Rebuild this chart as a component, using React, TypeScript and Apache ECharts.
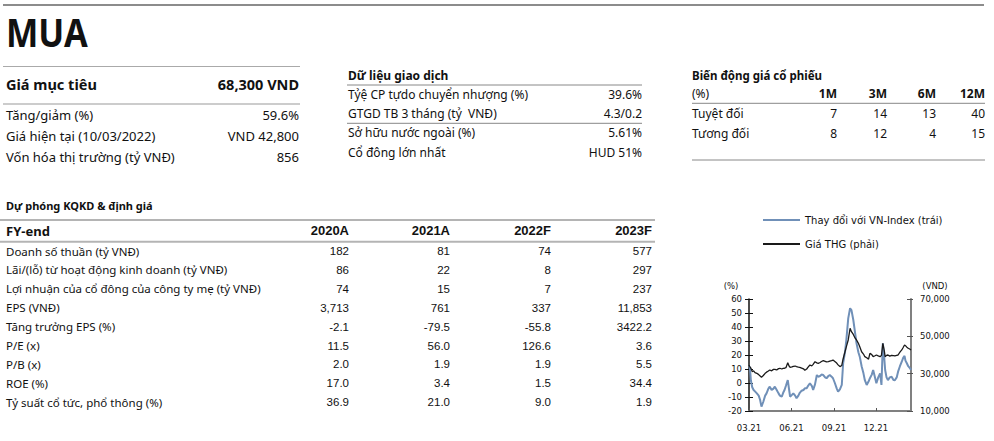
import React, { useEffect, useRef } from 'react';
import * as echarts from 'echarts';

// ---------- data ----------
const ticker = 'MUA';
const targetLabel = 'Giá mục tiêu';
const targetValue = '68,300 VND';
const summaryLabels = ['Tăng/giảm (%)', 'Giá hiện tại (10/03/2022)', 'Vốn hóa thị trường (tỷ VNĐ)'];
const summaryValues = ['59.6%', 'VND 42,800', '856'];

const tradingTitle = 'Dữ liệu giao dịch';
const tradingLabels = ['Tỷệ CP tựdo chuyển nhượng (%)', 'GTGD TB 3 tháng (tỷ  VNĐ)', 'Sở hữu nước ngoài (%)', 'Cổ đông lớn nhất'];
const tradingValues = ['39.6%', '4.3/0.2', '5.61%', 'HUD 51%'];

const perfTitle = 'Biến động giá cổ phiếu';
const perfUnit = '(%)';
const perfCols = ['1M', '3M', '6M', '12M'];
const perfRows = ['Tuyệt đối', 'Tương đối'];
const perfAbsolute = [7, 14, 13, 40];
const perfRelative = [8, 12, 4, 15];

const fyTitle = 'Dự phóng KQKD & định giá';
const fyHeader = 'FY-end';
const fyYears = ['2020A', '2021A', '2022F', '2023F'];
const fyLabels = [
  'Doanh số thuần (tỷ VNĐ)',
  'Lãi/(lỗ) từ hoạt động kinh doanh (tỷ VNĐ)',
  'Lợi nhuận của cổ đông của công ty mẹ (tỷ VNĐ)',
  'EPS (VNĐ)',
  'Tăng trưởng EPS (%)',
  'P/E (x)',
  'P/B (x)',
  'ROE (%)',
  'Tỷ suất cổ tức, phổ thông (%)',
];
const fy2020 = ['182', '86', '74', '3,713', '-2.1', '11.5', '2.0', '17.0', '36.9'];
const fy2021 = ['81', '22', '15', '761', '-79.5', '56.0', '1.9', '3.4', '21.0'];
const fy2022 = ['74', '8', '7', '337', '-55.8', '126.6', '1.9', '1.5', '9.0'];
const fy2023 = ['577', '297', '237', '11,853', '3422.2', '3.6', '5.5', '34.4', '1.9'];

const seriesNames = ['Thay đổi với VN-Index (trái)', 'Giá THG (phải)'];
const leftUnit = '(%)';
const rightUnit = '(VND)';
const xTickDates = ['2021-03-01', '2021-06-01', '2021-09-01', '2021-12-01'];
const xRange = ['2021-03-01', '2022-02-15'];

const dates = [
  '2021-03-01', '2021-03-03', '2021-03-05', '2021-03-08', '2021-03-11', '2021-03-14', '2021-03-18', '2021-03-22', '2021-03-25', '2021-03-28',
  '2021-04-01', '2021-04-05', '2021-04-08', '2021-04-12', '2021-04-15', '2021-04-19', '2021-04-23', '2021-04-26', '2021-04-30', '2021-05-04',
  '2021-05-07', '2021-05-11', '2021-05-14', '2021-05-17', '2021-05-20', '2021-05-24', '2021-05-27', '2021-05-29', '2021-06-02', '2021-06-05',
  '2021-06-09', '2021-06-12', '2021-06-16', '2021-06-19', '2021-06-23', '2021-06-27', '2021-06-30', '2021-07-04', '2021-07-07', '2021-07-11',
  '2021-07-15', '2021-07-18', '2021-07-22', '2021-07-26', '2021-07-29', '2021-08-02', '2021-08-05', '2021-08-09', '2021-08-13', '2021-08-16',
  '2021-08-20', '2021-08-23', '2021-08-27', '2021-08-30', '2021-09-03', '2021-09-07', '2021-09-10', '2021-09-14', '2021-09-18', '2021-09-21',
  '2021-09-25', '2021-09-28', '2021-10-02', '2021-10-06', '2021-10-09', '2021-10-13', '2021-10-17', '2021-10-20', '2021-10-24', '2021-10-27',
  '2021-10-31', '2021-11-04', '2021-11-07', '2021-11-11', '2021-11-15', '2021-11-18', '2021-11-22', '2021-11-25', '2021-11-29', '2021-12-02',
  '2021-12-06', '2021-12-10', '2021-12-13', '2021-12-16', '2021-12-19', '2021-12-21', '2021-12-24', '2021-12-27', '2021-12-31', '2022-01-04',
  '2022-01-08', '2022-01-11', '2022-01-15', '2022-01-18', '2022-01-22', '2022-01-26', '2022-01-29', '2022-02-01', '2022-02-03', '2022-02-06',
  '2022-02-09', '2022-02-13', '2022-02-15',
];
const relVnIndex = [
  12, 11, 2, -3, -5, -6, -7.4, -9, -12, -16.9,
  -13.4, -9, -7.4, -4, -2.6, -5, -4, -2.6, -5, -7.4,
  -9, -9.8, -7, -5, -2, 2.1, -5, -9.8, -8.5, -7.4,
  -9, -10.9, -9, -7, -5.5, -5, -3.8, -3.8, -2, -0.2,
  -2, -5, -1, 5.7, 4.5, 5, 6, 5.7, 4, 3.4,
  5, 5.7, 4.5, 3.4, 0, -3.8, -6.2, -4.5, -1.4, 14.1,
  22, 31, 46.2, 53.4, 52.1, 45, 35.5, 28.4, 22, 18.8,
  12, 6.9, 2, -1.4, 1, 3.4, 6, 9.3, 4, -0.2,
  4, 6.9, -1.4, 28.4, 18, 9.3, 4, 2.1, 4, 4.5,
  2.1, 2, 4, 8.1, 12, 15.2, 18, 19.3, 16, 14.1,
  12, 10.5, 9.3,
];
const priceTHG = [
  34500, 33700, 33000, 31100, 31500, 30600, 30200, 29500, 28800, 28050,
  29000, 30200, 30800, 31400, 31950, 31500, 32300, 32350, 32000, 32700,
  32900, 32500, 32800, 32900, 33200, 35900, 34000, 33400, 33600, 33900,
  34100, 33800, 33500, 33400, 33000, 32600, 31800, 32500, 33500, 34650,
  34200, 35000, 36400, 35800, 35550, 36000, 36500, 36950, 36600, 36300,
  36400, 36700, 37000, 37300, 36500, 35700, 34700, 33800, 34400, 38000,
  41750, 44500, 48050, 54300, 52500, 51000, 49000, 48050, 46250, 44450,
  41750, 40500, 39100, 38500, 37800, 40900, 40200, 39100, 39600, 40000,
  39500, 39100, 39800, 46250, 42500, 39100, 39800, 40000, 39400, 39800,
  39700, 39500, 39800, 40000, 41500, 42700, 44000, 45350, 45000, 44200,
  43600, 43100, 42700,
];

// ---------- styling ----------
const HUM = '"Noto Sans", "Open Sans", sans-serif';
const TAH = '"Liberation Sans", Arial, sans-serif';
const VER = '"DejaVu Sans", Verdana, sans-serif';
const INK = '#111';

function txt(text: string, x: number, y: number, size: number, opts: any = {}) {
  return {
    type: 'text',
    x,
    y,
    scaleX: opts.scaleX || 1,
    silent: true,
    style: {
      text,
      fill: opts.fill || INK,
      fontSize: size,
      fontFamily: opts.family || HUM,
      fontWeight: opts.bold ? 'bold' : 'normal',
      align: opts.align || 'left',
      verticalAlign: 'middle',
    },
  };
}
function hline(x1: number, x2: number, y: number, color = '#999', w = 1) {
  return { type: 'line', silent: true, shape: { x1, y1: y, x2, y2: y }, style: { stroke: color, lineWidth: w } };
}

function buildGraphics() {
  const g: any[] = [];
  g.push(hline(3, 984, 5, '#8c8c8c', 2));
  g.push(txt(ticker, 6, 32.5, 39, { bold: true, scaleX: 0.88 }));
  g.push(hline(3, 300, 66.5, '#aaa', 1));
  g.push(txt(targetLabel, 6, 83.5, 14.5, { bold: true }));
  g.push(txt(targetValue, 299, 83.5, 14.5, { bold: true, align: 'right' }));
  g.push(hline(3, 300, 104, '#999', 1));
  const sy = [114.5, 136, 157];
  summaryLabels.forEach((l, i) => {
    g.push(txt(l, 6, sy[i], 13));
    g.push(txt(summaryValues[i], 299, sy[i], 13, { align: 'right' }));
  });
  g.push(txt(tradingTitle, 348, 75, 12, { bold: true }));
  g.push(hline(347, 642, 85, '#888', 1));
  g.push(hline(347, 642, 123.3, '#888', 1));
  const ty = [94, 113.3, 132.5, 152];
  tradingLabels.forEach((l, i) => {
    g.push(txt(l, 348, ty[i], 12));
    g.push(txt(tradingValues[i], 642, ty[i], 12, { align: 'right' }));
  });
  const colX = [837, 887, 936, 985];
  g.push(txt(perfTitle, 692, 75, 11.5, { bold: true }));
  g.push(txt(perfUnit, 692, 93.5, 12));
  perfCols.forEach((c, i) => g.push(txt(c, colX[i], 93.5, 12, { bold: true, align: 'right' })));
  g.push(hline(692, 985, 103.3, '#888', 1));
  const pRows = [perfAbsolute, perfRelative];
  const py = [113.3, 133];
  perfRows.forEach((r, ri) => {
    g.push(txt(r, 692, py[ri], 12));
    pRows[ri].forEach((v, ci) => g.push(txt(String(v), colX[ci], py[ri], 12, { align: 'right' })));
  });
  g.push(hline(692, 985, 160, '#888', 1));
  g.push(txt(fyTitle, 6, 205, 11, { bold: true }));
  g.push(hline(0, 655, 220, '#b4b4b4', 2));
  g.push(txt(fyHeader, 6, 230.5, 13, { bold: true }));
  const yearX = [349, 450, 551, 652];
  fyYears.forEach((y, i) => g.push(txt(y, yearX[i], 230.5, 13, { bold: true, align: 'right', family: TAH })));
  g.push(hline(0, 655, 241.7, '#b4b4b4', 2));
  const cols = [fy2020, fy2021, fy2022, fy2023];
  fyLabels.forEach((l, ri) => {
    const y = 251 + ri * 18.9;
    g.push(txt(l, 6, y, 11.5));
    cols.forEach((c, ci) => g.push(txt(c[ri], yearX[ci], y, 11.5, { align: 'right', family: TAH })));
  });
  g.push(txt(leftUnit, 731, 286, 8.5, { align: 'center', family: VER }));
  g.push(txt(rightUnit, 935, 286, 8.5, { align: 'center', family: VER }));
  return g;
}

function ts(s: string) {
  const [y, m, d] = s.split('-').map(Number);
  return Date.UTC(y, m - 1, d);
}
function fmtMonth(v: number) {
  const d = new Date(v);
  return String(d.getUTCMonth() + 1).padStart(2, '0') + '.' + String(d.getUTCFullYear() % 100);
}

export default function App() {
  const ref = useRef<HTMLDivElement>(null);
  useEffect(() => {
    const chart = echarts.init(ref.current as HTMLDivElement, null, { renderer: 'svg' });
    const tickVals = xTickDates.map(ts);
    const option: any = {
      animation: false,
      backgroundColor: '#fff',
      graphic: buildGraphics(),
      legend: {
        left: 758,
        top: 210,
        orient: 'vertical',
        icon: 'rect',
        itemWidth: 37,
        itemHeight: 2,
        itemGap: 14,
        data: seriesNames,
        textStyle: { fontFamily: VER, fontSize: 10, color: INK },
        selectedMode: false,
      },
      grid: { left: 749, top: 299, width: 162, height: 112, containLabel: false },
      xAxis: {
        type: 'value',
        min: ts(xRange[0]),
        max: ts(xRange[1]),
        axisLine: { onZero: false, lineStyle: { color: '#808080', width: 2 } },
        axisTick: { show: true, inside: true, length: 3, customValues: tickVals, lineStyle: { color: '#555', width: 1 } },
        axisLabel: {
          customValues: tickVals,
          margin: 12,
          fontFamily: VER,
          fontSize: 8.5,
          color: INK,
          formatter: (v: number) => fmtMonth(v),
        },
        splitLine: { show: false },
      },
      yAxis: [
        {
          type: 'value', position: 'left', min: -20, max: 60, interval: 10,
          axisLine: { show: true, lineStyle: { color: '#111', width: 1.5 } },
          axisTick: { show: true, length: 4, lineStyle: { color: '#111' } },
          axisLabel: { margin: 7, fontFamily: VER, fontSize: 8.5, color: INK },
          splitLine: { show: false },
        },
        {
          type: 'value', position: 'right', min: 10000, max: 70000, interval: 20000,
          axisLine: { show: true, lineStyle: { color: '#808080', width: 2 } },
          axisTick: { show: true, length: 2, lineStyle: { color: '#555' } },
          axisLabel: { margin: 9, fontFamily: VER, fontSize: 8.5, color: INK },
          splitLine: { show: false },
        },
        {
          type: 'value', position: 'left', min: -20, max: 60, interval: 10,
          axisLine: { show: false }, axisLabel: { show: false }, splitLine: { show: false },
          axisTick: { show: true, inside: true, length: 4, lineStyle: { color: '#111' } },
        },
        {
          type: 'value', position: 'right', min: 10000, max: 70000, interval: 20000,
          axisLine: { show: false }, axisLabel: { show: false }, splitLine: { show: false },
          axisTick: { show: true, inside: true, length: 4, lineStyle: { color: '#555' } },
        },
      ],
      series: [
        {
          name: seriesNames[0], type: 'line', yAxisIndex: 0, symbol: 'none',
          data: dates.map((d, i) => [ts(d), relVnIndex[i]]),
          lineStyle: { color: '#7090b8', width: 2 }, itemStyle: { color: '#7090b8' },
        },
        {
          name: seriesNames[1], type: 'line', yAxisIndex: 1, symbol: 'none',
          data: dates.map((d, i) => [ts(d), priceTHG[i]]),
          lineStyle: { color: '#1a1a1a', width: 1.3 }, itemStyle: { color: '#1a1a1a' },
        },
      ],
    };
    chart.setOption(option);
    return () => chart.dispose();
  }, []);
  return <div ref={ref} style={{ position: 'fixed', left: 0, top: 0, width: 994, height: 441, background: '#fff' }} />;
}
